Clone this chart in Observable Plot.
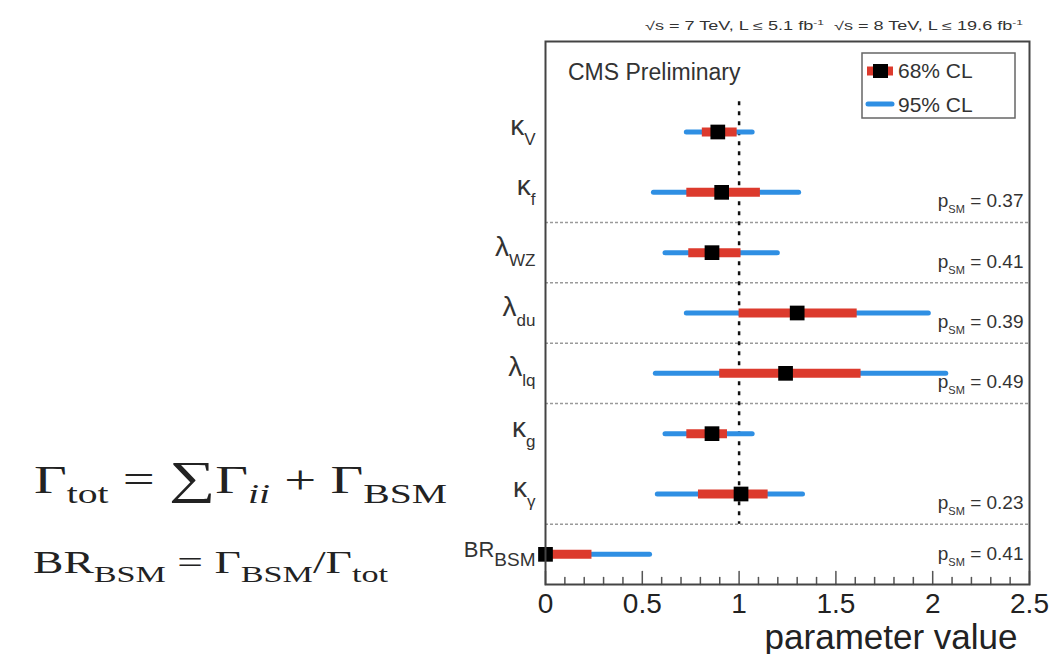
<!DOCTYPE html>
<html><head><meta charset="utf-8">
<script src="https://cdn.jsdelivr.net/npm/d3@7"></script>
<script src="https://cdn.jsdelivr.net/npm/@observablehq/plot@0.6"></script>
<style>
body{margin:0;background:#fff;}
#chart{position:relative;width:1059px;height:654px;overflow:hidden;}
</style>
</head><body><div id="chart"></div>
<script>
// ---- data ----
const paramSymbols = ["κ", "κ", "λ", "λ", "λ", "κ", "κ", "BR"];
const paramSubs    = ["V", "f", "WZ", "du", "lq", "g", "γ", "BSM"];
const bestFit = [0.89, 0.91, 0.86, 1.30, 1.24, 0.86, 1.01, 0.00];
const lo68    = [0.81, 0.73, 0.74, 1.00, 0.90, 0.73, 0.79, 0.00];
const hi68    = [0.99, 1.11, 1.01, 1.61, 1.63, 0.94, 1.15, 0.24];
const lo95    = [0.73, 0.56, 0.62, 0.73, 0.57, 0.62, 0.58, 0.00];
const hi95    = [1.07, 1.31, 1.20, 1.98, 2.07, 1.07, 1.33, 0.54];
const groupLastRow = [1, 2, 3, 4, 6, 7];
const pSM = ["0.37", "0.41", "0.39", "0.49", "0.23", "0.41"];
const majorTicks = [0, 0.5, 1, 1.5, 2, 2.5];
const minorTicks = [0.1, 0.2, 0.3, 0.4, 0.6, 0.7, 0.8, 0.9, 1.1, 1.2, 1.3, 1.4, 1.6, 1.7, 1.8, 1.9, 2.1, 2.2, 2.3, 2.4];
const xLabel = "parameter value";
const headerText = ["√s = 7 TeV, L ≤ 5.1 fb", "-1", "\u00a0\u00a0√s = 8 TeV, L ≤ 19.6 fb", "-1"];
const cmsLabel = "CMS Preliminary";
const legendLabels = ["68% CL", "95% CL"];

const BLUE = "#2f8fe3", RED = "#dc3a2d";

const rows = paramSymbols.map((s, i) => ({
  sym: s, sub: paramSubs[i], best: bestFit[i],
  lo68: lo68[i], hi68: hi68[i], lo95: lo95[i], hi95: hi95[i], pos: i + 1.5
}));
const separators = groupLastRow.slice(0, -1).map(r => r + 2);
const pRows = pSM.map((p, i) => ({p, pos: groupLastRow[i] + 1.5, last: i === pSM.length - 1}));

const tickShape = {draw(ctx, l) { ctx.moveTo(0, 0); ctx.lineTo(0, -l); }};
const SANS = "'Liberation Sans', Arial, Helvetica, sans-serif";

const plot = Plot.plot({
  width: 1059, height: 654,
  marginLeft: 545, marginRight: 30, marginTop: 41, marginBottom: 70,
  style: {fontFamily: SANS, background: "white", color: "#222"},
  x: {domain: [0, 2.5]},
  y: {domain: [9, 0], axis: null},
  marks: [
    Plot.ruleY(separators, {y: d => d, stroke: "#9a9a9a", strokeWidth: 1.5, strokeDasharray: "3,2"}),
    Plot.ruleX([1], {y1: 1, y2: 8, stroke: "#111", strokeWidth: 2.5, strokeDasharray: "4,6"}),
    Plot.ruleY(rows, {y: "pos", x1: "lo95", x2: "hi95", stroke: BLUE, strokeWidth: 5, strokeLinecap: "round"}),
    Plot.ruleY(rows, {y: "pos", x1: "lo68", x2: "hi68", stroke: RED, strokeWidth: 9}),
    Plot.dot(rows, {x: "best", y: "pos", symbol: "square", r: 8.3, fill: "black"}),
    Plot.text(rows, {x: 0, y: "pos", text: "sym", textAnchor: "end", lineAnchor: "bottom", dx: -10, dy: 3, fontSize: 22, fill: "#333"}),
    Plot.text(pRows, {x: 2.5, y: d => d.pos + (d.last ? 0 : 0.15), text: d => "p = " + d.p, textAnchor: "end", lineAnchor: "middle", dx: -6, fontSize: 19, fill: "#333"}),
    Plot.vector(majorTicks, {x: d => d, y: 9, length: 13, rotate: 0, anchor: "start", shape: tickShape, stroke: "#555", strokeWidth: 1.5}),
    Plot.vector(minorTicks, {x: d => d, y: 9, length: 7, rotate: 0, anchor: "start", shape: tickShape, stroke: "#555", strokeWidth: 1.5}),
    Plot.frame({stroke: "#444", strokeWidth: 2}),
    Plot.axisX(majorTicks, {tickSize: 0, tickPadding: 9, fontSize: 28, label: null, fill: "#222", tickFormat: d => String(d)}),
    Plot.text([xLabel], {frameAnchor: "bottom-right", textAnchor: "end", lineAnchor: "bottom", dx: -12, dy: 64, fontSize: 35, fill: "#222"})
  ]
});
document.getElementById("chart").appendChild(plot);

// ---- rich text helpers (sub/superscripts) ----
function rich(textSel, parts, shiftSub, shiftSup) {
  textSel.text(null);
  let cur = 0;
  parts.forEach(p => {
    const ts = textSel.append("tspan").text(p.t);
    const target = p.k === "sub" ? shiftSub : p.k === "sup" ? -shiftSup : 0;
    if (target - cur !== 0) ts.attr("dy", target - cur);
    cur = target;
    if (p.size) ts.attr("font-size", p.size);
    if (p.italic) ts.attr("font-style", "italic");
  });
}
const svg = d3.select(plot);
const textGroups = svg.selectAll('g[aria-label="text"]').nodes();
d3.select(textGroups[0]).selectAll("text").each(function(_, i) {
  const greek = /[α-ω]/.test(rows[i].sym);
  rich(d3.select(this), [{t: rows[i].sym, size: greek ? 28 : 22}, {t: rows[i].sub, k: "sub", size: greek ? 17 : 19}], greek ? 10 : 9, 0);
});
d3.select(textGroups[1]).selectAll("text").each(function(_, i) {
  rich(d3.select(this), [{t: "p"}, {t: "SM", k: "sub", size: 11}, {t: " = " + pRows[i].p}], 6, 0);
});

// header
const hdr = svg.append("text").attr("x", 645).attr("y", 30).attr("font-size", 12).attr("fill", "#333")
  .attr("text-anchor", "start").attr("font-family", SANS).attr("textLength", 378).attr("lengthAdjust", "spacingAndGlyphs");
rich(hdr, [{t: headerText[0]}, {t: headerText[1], k: "sup", size: 8}, {t: headerText[2]}, {t: headerText[3], k: "sup", size: 8}], 0, 5);

// CMS label
svg.append("text").attr("x", 568).attr("y", 80).attr("font-size", 23).attr("fill", "#333")
  .attr("text-anchor", "start").attr("font-family", SANS).text(cmsLabel);

// legend
const lg = svg.append("g").attr("text-anchor", "start");
lg.append("rect").attr("x", 862).attr("y", 53).attr("width", 153).attr("height", 65)
  .attr("fill", "white").attr("stroke", "#666").attr("stroke-width", 1.5);
lg.append("line").attr("x1", 867).attr("x2", 893).attr("y1", 71).attr("y2", 71).attr("stroke", RED).attr("stroke-width", 9);
lg.append("rect").attr("x", 873).attr("y", 64).attr("width", 15).attr("height", 14).attr("fill", "black");
lg.append("line").attr("x1", 868).attr("x2", 892).attr("y1", 104).attr("y2", 104).attr("stroke", BLUE).attr("stroke-width", 5).attr("stroke-linecap", "round");
lg.append("text").attr("x", 898).attr("y", 78).attr("font-size", 21).attr("fill", "#333").attr("font-family", SANS).text(legendLabels[0]);
lg.append("text").attr("x", 898).attr("y", 112).attr("font-size", 21).attr("fill", "#333").attr("font-family", SANS).text(legendLabels[1]);

// formulas
const SERIF = "'Liberation Serif', 'DejaVu Serif', 'Times New Roman', serif";
const f1 = svg.append("text").attr("x", 34).attr("y", 493).attr("font-size", 40).attr("fill", "#222")
  .attr("text-anchor", "start").attr("font-family", SERIF).attr("textLength", 413).attr("lengthAdjust", "spacingAndGlyphs");
rich(f1, [{t: "Γ"}, {t: "tot", k: "sub", size: 28}, {t: " = "}, {t: "∑", size: 46}, {t: "Γ"}, {t: "ii", k: "sub", size: 28, italic: true},
          {t: " + Γ"}, {t: "BSM", k: "sub", size: 28}], 10, 0);
const f2 = svg.append("text").attr("x", 33).attr("y", 573).attr("font-size", 32).attr("fill", "#222")
  .attr("text-anchor", "start").attr("font-family", SERIF).attr("textLength", 355).attr("lengthAdjust", "spacingAndGlyphs");
rich(f2, [{t: "BR"}, {t: "BSM", k: "sub", size: 24}, {t: " = Γ"}, {t: "BSM", k: "sub", size: 24}, {t: "/Γ"}, {t: "tot", k: "sub", size: 24}], 9, 0);
</script>
</body></html>
